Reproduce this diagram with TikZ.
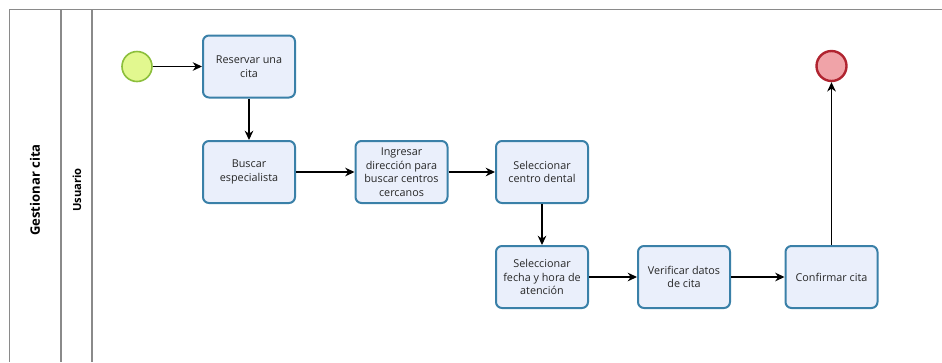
\documentclass[tikz,border=0pt]{standalone}
\usepackage{fontspec}
\setmainfont{Open Sans}
\usetikzlibrary{arrows.meta}
\definecolor{taskfill}{HTML}{EAEFFB}
\definecolor{taskline}{HTML}{3A80A8}
\definecolor{startfill}{HTML}{E2F88F}
\definecolor{startline}{HTML}{8CBF3C}
\definecolor{endfill}{HTML}{F0A3A8}
\definecolor{endline}{HTML}{B02430}
\definecolor{poolline}{HTML}{8A8A8A}
\tikzset{
  task/.style={draw=taskline, fill=taskfill, line width=1.5pt, rounded corners=4.5pt,
    minimum width=69pt, minimum height=46.5pt, align=center, inner sep=1pt,
    font=\fontsize{8.1}{10.1}\selectfont, text=black!85},
  startev/.style={circle, draw=startline, fill=startfill, line width=1.2pt, minimum size=22.5pt, inner sep=0pt},
  endev/.style={circle, draw=endline, fill=endfill, line width=1.8pt, minimum size=22.5pt, inner sep=0pt},
  flow/.style={draw=black, line width=0.8pt, -{Stealth[length=7pt,width=6.5pt]}},
  pool/.style={draw=poolline, line width=1.1pt}
}
\begin{document}
\begin{tikzpicture}[x=0.75pt,y=-0.75pt]
  \useasboundingbox (0,0) rectangle (942,362);
  % pool and lane frame
  \draw[pool] (942,9.5) -- (9.5,9.5) -- (9.5,362);
  \draw[pool] (61,9.5) -- (61,362);
  \draw[pool] (92,9.5) -- (92,362);
  \node[rotate=90, font=\bfseries\fontsize{9.8}{11}\selectfont] (poolname) at (35,190) {Gestionar cita};
  \node[rotate=90, font=\bfseries\fontsize{8.4}{10}\selectfont] (lanename) at (77,190) {Usuario};

  % events and tasks
  \node[startev] (start) at (137,66.5) {};
  \node[task] (reservar) at (249,66.5) {Reservar una\\cita};
  \node[task] (buscar) at (249,172) {Buscar\\especialista};
  \node[task] (ingresar) at (401.5,172) {Ingresar\\dirección para\\buscar centros\\cercanos};
  \node[task] (centro) at (542,172) {Seleccionar\\centro dental};
  \node[task] (fecha) at (542,277) {Seleccionar\\fecha y hora de\\atención};
  \node[task] (verificar) at (684,277) {Verificar datos\\de cita};
  \node[task] (confirmar) at (831.5,277) {Confirmar cita};
  \node[endev] (fin) at (831.5,66) {};

  % sequence flows
  \draw[flow] (start) -- (reservar);
  \draw[flow] (reservar) -- (buscar);
  \draw[flow] (buscar) -- (ingresar);
  \draw[flow] (ingresar) -- (centro);
  \draw[flow] (centro) -- (fecha);
  \draw[flow] (fecha) -- (verificar);
  \draw[flow] (verificar) -- (confirmar);
  \draw[flow] (confirmar) -- (fin);
\end{tikzpicture}
\end{document}
